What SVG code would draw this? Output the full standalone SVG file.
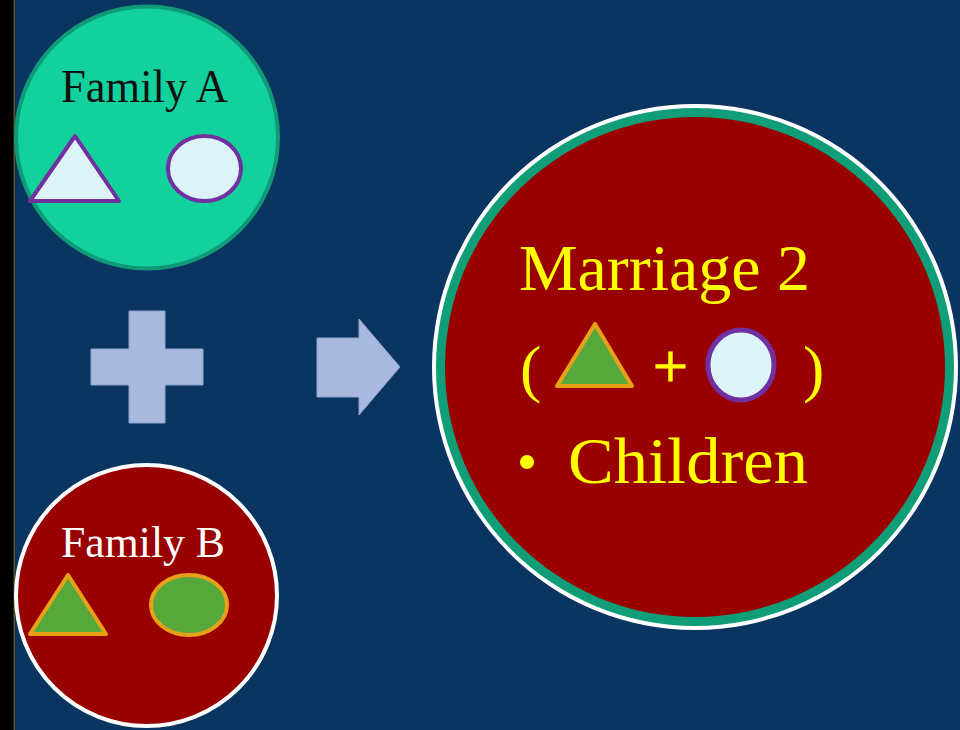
<svg xmlns="http://www.w3.org/2000/svg" width="960" height="730" viewBox="0 0 960 730">
  <style>
    .lbl { font-family: "Liberation Serif", "DejaVu Serif", serif; }
    .sym { fill: #a9b9de; stroke: #8fa2cf; stroke-width: 1; }
    .lightA { fill: #dcf3f8; stroke: #7030a0; stroke-width: 4; stroke-linejoin: round; }
    .greenB { fill: #57a83b; stroke: #e6a118; stroke-width: 4; stroke-linejoin: round; }
    .yel { fill: #ffff00; }
  </style>
  <rect x="0" y="0" width="960" height="730" fill="#0a3561"/>
  <rect x="0" y="0" width="14" height="730" fill="#000000"/>
  <rect x="13.5" y="0" width="1.5" height="730" fill="#5a5520"/>

  <g id="familyA">
    <circle cx="147" cy="137.5" r="131" fill="#12d19c" stroke="#0f9a78" stroke-width="4"/>
    <text class="lbl" x="61" y="102" font-size="46" textLength="167" lengthAdjust="spacingAndGlyphs" fill="#111111">Family A</text>
    <polygon class="lightA" points="75,136 30,201 119,201"/>
    <ellipse class="lightA" cx="204.5" cy="168.5" rx="36.5" ry="32.5"/>
  </g>

  <g id="familyB">
    <circle cx="146.5" cy="595.5" r="130.5" fill="#990000" stroke="#ffffff" stroke-width="4"/>
    <text class="lbl" x="61" y="557" font-size="44" textLength="164" lengthAdjust="spacingAndGlyphs" fill="#ffffff">Family B</text>
    <polygon class="greenB" points="68,575 30,634 106,634"/>
    <ellipse class="greenB" cx="189" cy="605" rx="38" ry="30"/>
  </g>

  <g id="plus">
    <polygon class="sym" points="129,311 165,311 165,349 203,349 203,385 165,385 165,423 129,423 129,385 91,385 91,349 129,349"/>
  </g>

  <g id="connectors">
    <polygon class="sym" points="317,338 359,338 359,319 400,367 359,415 359,397 317,397"/>
  </g>

  <g id="marriage2">
    <circle cx="695" cy="367" r="263" fill="#ffffff"/>
    <circle cx="695" cy="367" r="259" fill="#109e78"/>
    <circle cx="695" cy="367" r="250" fill="#990000"/>
    <text class="lbl yel" x="519" y="290" font-size="66" textLength="291" lengthAdjust="spacingAndGlyphs">Marriage 2</text>
    <text class="lbl yel" x="520" y="390" font-size="64">(</text>
    <polygon class="greenB" points="595,324 557,386 632,386" stroke-width="5"/>
    <text class="lbl yel" x="653" y="387" font-size="62" stroke="#ffff00" stroke-width="1.2">+</text>
    <ellipse cx="741" cy="365" rx="33" ry="35" fill="#dcf3f8" stroke="#7030a0" stroke-width="5"/>
    <text class="lbl yel" x="803" y="390" font-size="64">)</text>
    <circle class="yel" cx="527" cy="462" r="7"/>
    <text class="lbl yel" x="568" y="483" font-size="66" textLength="240" lengthAdjust="spacingAndGlyphs">Children</text>
  </g>
</svg>
